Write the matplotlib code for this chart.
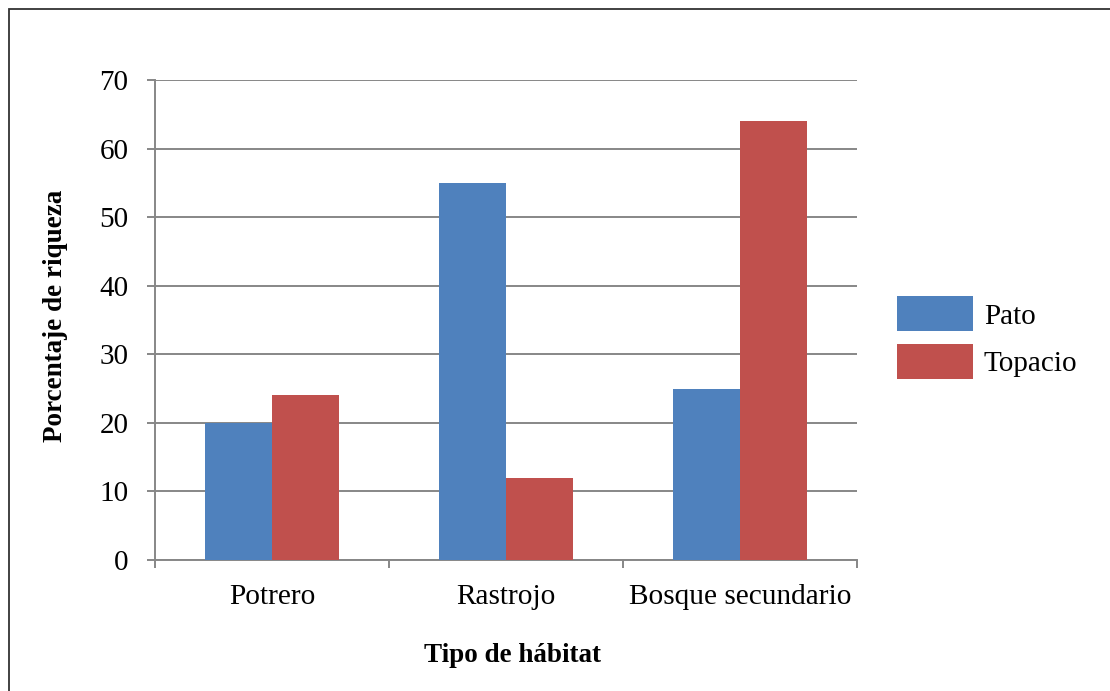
import numpy as np
import matplotlib
matplotlib.use("Agg")
import matplotlib.pyplot as plt
from matplotlib.patches import Rectangle

categories = ["Potrero", "Rastrojo", "Bosque secundario"]
pato = [20, 55, 25]
topacio = [24, 12, 64]
series_names = ["Pato", "Topacio"]
y_ticks = [0, 10, 20, 30, 40, 50, 60, 70]

plt.rcParams["font.family"] = ["Liberation Serif", "DejaVu Serif"]

blue = "#4F81BD"
red = "#C0504D"
grid_col = "#878787"

fig = plt.figure(figsize=(11.1, 6.91), dpi=100)
ax = fig.add_axes([155 / 1110, 1 - 560 / 691, 702 / 1110, 480 / 691])

x = np.arange(len(categories))
w = 0.286
ax.bar(x - w / 2, pato, width=w, color=blue, label=series_names[0], zorder=3)
ax.bar(x + w / 2, topacio, width=w, color=red, label=series_names[1], zorder=3)

ax.set_xlim(-0.5, len(categories) - 0.5)
ax.set_ylim(0, 70)
ax.set_yticks(y_ticks)
ax.yaxis.grid(True, color=grid_col, linewidth=1.4, zorder=0)
ax.set_axisbelow(True)

ax.set_xticks(x)
ax.set_xticklabels(categories)
ax.set_xticks(np.arange(len(categories) + 1) - 0.5, minor=True)
ax.tick_params(axis="x", which="major", length=0, pad=17, labelsize=21.2)
ax.tick_params(axis="x", which="minor", length=6, width=1.4, color=grid_col, direction="out")
ax.tick_params(axis="y", length=6, width=1.4, color=grid_col, pad=13, labelsize=21)

for s in ["top", "right"]:
    ax.spines[s].set_visible(False)
for s in ["left", "bottom"]:
    ax.spines[s].set_color(grid_col)
    ax.spines[s].set_linewidth(1.4)

ax.set_ylabel("Porcentaje de riqueza", fontsize=19.5, fontweight="bold", va="center")
ax.yaxis.set_label_coords((55 - 155) / 702, (560 - 315.5) / 480)
ax.set_xlabel("Tipo de hábitat", fontsize=19.5, fontweight="bold", va="center")
ax.xaxis.set_label_coords((512 - 155) / 702, -(655 - 560) / 480)

fig.legend(loc="center left", bbox_to_anchor=(891 / 1110, 1 - 337.5 / 691), frameon=False,
           fontsize=21, handlelength=2.6, handleheight=1.47, labelspacing=0.42,
           handletextpad=0.38, borderaxespad=0, borderpad=0.2)

# outer chart frame (only top and left edges visible in the crop)
fig.patches.append(Rectangle((9 / 1110, -0.05), 1.2, 1 - 9 / 691 + 0.05,
                             transform=fig.transFigure, fill=False,
                             edgecolor="#333333", linewidth=1.3))

fig.savefig("out.png", dpi=100)
